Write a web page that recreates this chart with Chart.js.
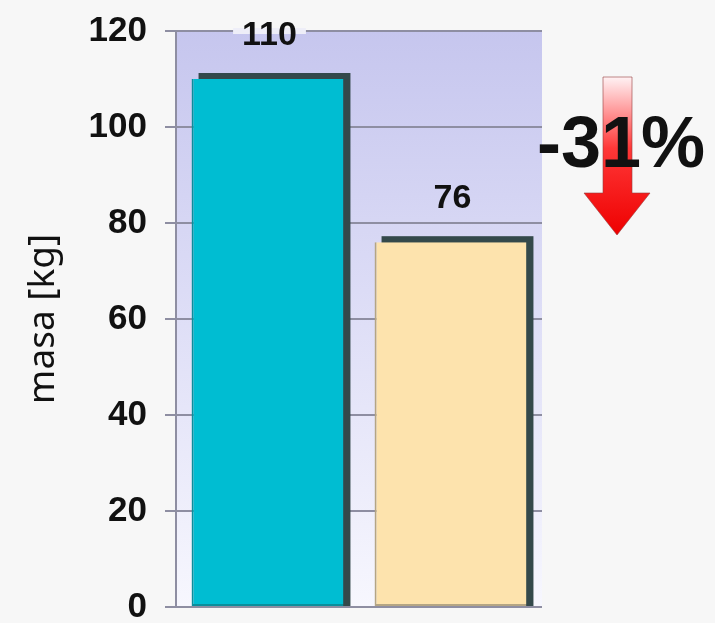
<!DOCTYPE html>
<html lang="pl">
<head>
    <meta charset="UTF-8">
    <title>masa [kg]</title>
    <script src="https://cdn.jsdelivr.net/npm/chart.js"></script>
    <style>
        body { margin: 0; background: #f7f7f7; }
        #wrap { width: 715px; height: 623px; position: relative; }
    </style>
</head>
<body>
    <div id="wrap"><canvas id="massChart"></canvas></div>

    <script>
        // data
        const categories = ['przed', 'po'];
        const massValues = [110, 76];
        const barColors = ['#00bdd2', '#fde3ad'];
        const edgeColors = ['#0a8e9c', '#b4a584'];
        const yTicks = [0, 20, 40, 60, 80, 100, 120];
        const changeLabel = '-31%';

        // plot background: lavender at the top fading to white
        const plotBackground = {
            id: 'plotBackground',
            beforeDraw(chart) {
                const { ctx, chartArea: a } = chart;
                const g = ctx.createLinearGradient(0, a.top, 0, a.bottom);
                g.addColorStop(0, '#c6c6ee');
                g.addColorStop(0.45, '#dcdcf6');
                g.addColorStop(1, '#f7f7fe');
                ctx.save();
                ctx.fillStyle = g;
                ctx.fillRect(a.left, a.top, a.right - a.left, a.bottom - a.top);
                ctx.restore();
            }
        };

        // dark offset box behind each bar (the old excel 3d look)
        const barShadow = {
            id: 'barShadow',
            beforeDatasetsDraw(chart) {
                const ctx = chart.ctx;
                const meta = chart.getDatasetMeta(0);
                ctx.save();
                ctx.fillStyle = '#34494b';
                meta.data.forEach(bar => {
                    const { x, y, base, width } = bar.getProps(['x', 'y', 'base', 'width'], true);
                    ctx.fillRect(x - width / 2 + 7, y - 6, width, base - y + 6);
                });
                ctx.restore();
            }
        };

        // value above each bar
        const valueLabels = {
            id: 'valueLabels',
            afterDatasetsDraw(chart) {
                const ctx = chart.ctx;
                const meta = chart.getDatasetMeta(0);
                ctx.save();
                ctx.font = 'bold 34px "Liberation Sans", Arial, sans-serif';
                ctx.textAlign = 'center';
                ctx.textBaseline = 'alphabetic';
                meta.data.forEach((bar, i) => {
                    const txt = String(massValues[i]);
                    const tx = bar.x + 2;
                    const ty = bar.y - 34;
                    const w = ctx.measureText(txt).width;
                    // label box breaks the top grid line
                    if (ty - 24 < chart.chartArea.top + 4) {
                        ctx.fillStyle = '#eeeef8';
                        ctx.fillRect(tx - w / 2 - 9, chart.chartArea.top - 3, w + 18, 6);
                    }
                    ctx.fillStyle = '#111';
                    ctx.fillText(txt, tx, ty);
                });
                ctx.restore();
            }
        };

        // red arrow with the change in percent
        const changeArrow = {
            id: 'changeArrow',
            afterDraw(chart) {
                const ctx = chart.ctx;
                ctx.save();
                const g = ctx.createLinearGradient(0, 77, 0, 235);
                g.addColorStop(0, '#fff2f4');
                g.addColorStop(0.45, '#ff3838');
                g.addColorStop(1, '#ee0000');
                ctx.beginPath();
                ctx.moveTo(603, 77);
                ctx.lineTo(632, 77);
                ctx.lineTo(632, 193);
                ctx.lineTo(650, 193);
                ctx.lineTo(617, 235);
                ctx.lineTo(584, 193);
                ctx.lineTo(603, 193);
                ctx.closePath();
                ctx.fillStyle = g;
                ctx.fill();
                ctx.strokeStyle = 'rgba(150, 60, 60, 0.6)';
                ctx.lineWidth = 1;
                ctx.stroke();

                ctx.font = 'bold 72px "Liberation Sans", Arial, sans-serif';
                ctx.fillStyle = '#111';
                ctx.textAlign = 'left';
                ctx.textBaseline = 'alphabetic';
                ctx.fillText(changeLabel, 537, 167);
                ctx.restore();
            }
        };

        const ctx = document.getElementById('massChart').getContext('2d');
        new Chart(ctx, {
            type: 'bar',
            data: {
                labels: categories,
                datasets: [{
                    label: 'masa [kg]',
                    data: massValues,
                    backgroundColor: barColors,
                    borderColor: edgeColors,
                    borderWidth: { left: 2, bottom: 2, top: 0, right: 0 },
                    borderSkipped: false,
                    categoryPercentage: 0.83,
                    barPercentage: 1
                }]
            },
            options: {
                responsive: true,
                maintainAspectRatio: false,
                animation: false,
                layout: {
                    padding: { top: 31, right: 173, bottom: 16, left: 0 }
                },
                plugins: {
                    legend: { display: false },
                    tooltip: { enabled: false }
                },
                scales: {
                    x: {
                        display: false
                    },
                    y: {
                        min: 0,
                        max: 120,
                        afterBuildTicks: (scale) => {
                            scale.ticks = yTicks.map(v => ({ value: v }));
                        },
                        afterFit: (scale) => {
                            scale.width = 176;
                            scale.paddingTop = 0;
                            scale.paddingBottom = 0;
                        },
                        border: { display: true, color: '#8e8ea2', width: 2 },
                        grid: {
                            color: '#8e8ea2',
                            lineWidth: 2,
                            tickLength: 11,
                            drawTicks: true
                        },
                        ticks: {
                            color: '#111',
                            padding: 18,
                            font: { family: '"Liberation Sans", Arial, sans-serif', size: 35, weight: 'bold' }
                        },
                        title: {
                            display: true,
                            text: 'masa [kg]',
                            color: '#111',
                            padding: { top: 21, bottom: 0 },
                            font: { family: '"Noto Sans", sans-serif', size: 37, weight: 'normal' }
                        }
                    }
                }
            },
            plugins: [plotBackground, barShadow, valueLabels, changeArrow]
        });
    </script>
</body>
</html>
